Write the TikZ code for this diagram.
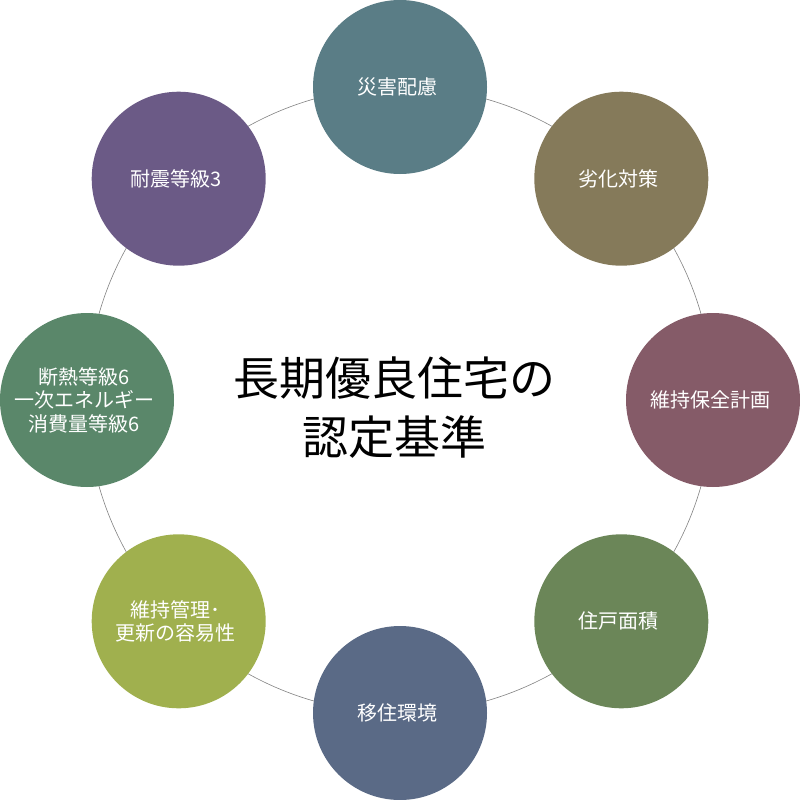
\documentclass[tikz,border=0pt]{standalone}
\usepackage{fontspec}
\setmainfont{Noto Sans CJK JP}
\definecolor{cA}{HTML}{5A7D86}
\definecolor{cB}{HTML}{857A5A}
\definecolor{cC}{HTML}{855B68}
\definecolor{cD}{HTML}{6B8658}
\definecolor{cE}{HTML}{5A6A86}
\definecolor{cF}{HTML}{A0B04E}
\definecolor{cG}{HTML}{5A876A}
\definecolor{cH}{HTML}{6B5A86}
\begin{document}
\begin{tikzpicture}[x=1pt,y=-1pt,
  item/.style={circle,minimum size=174pt,inner sep=0pt},
  lbl/.style={text=white,align=center,font=\fontsize{20}{23.5}\selectfont},
  ring/.style={draw=black!50,line width=0.6pt}]
\useasboundingbox (0,0) rectangle (800,800);
\coordinate (c) at (400,400);
\draw[ring] (c) circle[radius=313pt];
\node[item,fill=cA] (n1) at (400,87) {};
\node[item,fill=cB] (n2) at (621.3,178.7) {};
\node[item,fill=cC] (n3) at (713,400) {};
\node[item,fill=cD] (n4) at (621.3,621.3) {};
\node[item,fill=cE] (n5) at (400,713) {};
\node[item,fill=cF] (n6) at (178.7,621.3) {};
\node[item,fill=cG] (n7) at (87,400) {};
\node[item,fill=cH] (n8) at (178.7,178.7) {};
\node[lbl] (l1) at ([xshift=-3pt]n1.center) {災害配慮};
\node[lbl] (l2) at ([xshift=-3pt]n2.center) {劣化対策};
\node[lbl] (l3) at ([xshift=-3pt]n3.center) {維持保全計画};
\node[lbl] (l4) at ([xshift=-3pt]n4.center) {住戸面積};
\node[lbl] (l5) at ([xshift=-3pt]n5.center) {移住環境};
\node[lbl] (l6) at ([xshift=-3pt]n6.center) {維持管理･\\更新の容易性};
\node[lbl] (l7) at ([xshift=-3pt]n7.center) {断熱等級6\\一次エネルギー\\消費量等級6};
\node[lbl] (l8) at ([xshift=-3pt]n8.center) {耐震等級3};
\node[align=center,font=\fontsize{46}{59}\selectfont] (t) at (394,408) {長期優良住宅の\\認定基準};
\end{tikzpicture}
\end{document}
